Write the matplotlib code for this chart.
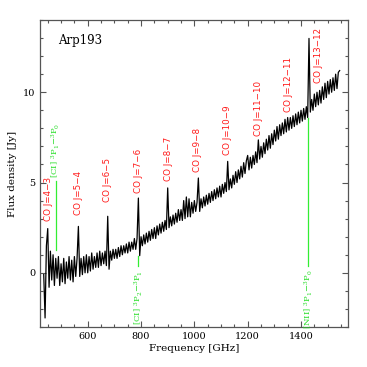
import matplotlib
matplotlib.use("Agg")
import matplotlib.pyplot as plt
from matplotlib.ticker import MultipleLocator

plt.rcParams['mathtext.fontset'] = 'dejavuserif'

# spectrum (GHz, Jy)
freq = [435, 440, 445, 450, 455, 460, 465, 470, 475, 480,
        485, 490, 495, 500, 505, 510, 515, 520, 525, 530,
        535, 540, 545, 550, 555, 560, 565, 570, 575, 580,
        585, 590, 595, 600, 605, 610, 615, 620, 625, 630,
        635, 640, 645, 650, 655, 660, 665, 670, 675, 680,
        685, 690, 695, 700, 705, 710, 715, 720, 725, 730,
        735, 740, 745, 750, 755, 760, 765, 770, 775, 780,
        785, 790, 795, 800, 805, 810, 815, 820, 825, 830,
        835, 840, 845, 850, 855, 860, 865, 870, 875, 880,
        885, 890, 895, 900, 905, 910, 915, 920, 925, 930,
        935, 940, 945, 950, 955, 960, 965, 970, 975, 980,
        985, 990, 995, 1000, 1005, 1010, 1015, 1020, 1025, 1030,
        1035, 1040, 1045, 1050, 1055, 1060, 1065, 1070, 1075, 1080,
        1085, 1090, 1095, 1100, 1105, 1110, 1115, 1120, 1125, 1130,
        1135, 1140, 1145, 1150, 1155, 1160, 1165, 1170, 1175, 1180,
        1185, 1190, 1195, 1200, 1205, 1210, 1215, 1220, 1225, 1230,
        1235, 1240, 1245, 1250, 1255, 1260, 1265, 1270, 1275, 1280,
        1285, 1290, 1295, 1300, 1305, 1310, 1315, 1320, 1325, 1330,
        1335, 1340, 1345, 1350, 1355, 1360, 1365, 1370, 1375, 1380,
        1385, 1390, 1395, 1400, 1405, 1410, 1415, 1420, 1425, 1430,
        1435, 1440, 1445, 1450, 1455, 1460, 1465, 1470, 1475, 1480,
        1485, 1490, 1495, 1500, 1505, 1510, 1515, 1520, 1525, 1530,
        1535, 1540, 1545]
flux = [-0.1, -2.5, 1.5, 2.45, -0.8, 1.2, -0.4, 1.0, -0.7, 0.8,
        -0.3, 0.9, -0.7, 0.5, -0.5, 0.8, -0.6, 0.6, -0.3, 0.9,
        -0.4, 0.7, -0.5, 0.9, -0.2, 0.8, 2.57, -0.2, 0.8, -0.1,
        0.9, 0.0, 1.0, 0.0, 0.9, 0.1, 1.1, 0.2, 0.9, 0.3,
        1.1, 0.3, 1.2, 0.4, 1.1, 0.5, 1.2, 0.4, 3.13, 0.2,
        1.2, 0.7, 1.3, 0.8, 1.3, 0.8, 1.4, 0.9, 1.5, 1.0,
        1.5, 1.1, 1.6, 1.1, 1.7, 1.2, 1.7, 1.3, 1.9, 1.3,
        1.9, 4.14, 0.95, 2.0, 1.5, 2.1, 1.6, 2.2, 1.7, 2.3,
        1.8, 2.4, 1.9, 2.5, 1.9, 2.6, 2.1, 2.7, 2.2, 2.8,
        2.3, 2.9, 2.4, 4.7, 2.5, 3.1, 2.6, 3.2, 2.7, 3.3,
        2.8, 3.5, 2.9, 3.5, 2.9, 4.0, 3.0, 4.2, 3.1, 4.1,
        3.1, 3.9, 3.3, 4.0, 3.4, 3.9, 5.25, 3.4, 4.1, 3.6,
        4.2, 3.7, 4.3, 3.8, 4.4, 3.9, 4.5, 4.0, 4.6, 4.1,
        4.7, 4.2, 4.8, 4.2, 4.9, 4.4, 5.0, 4.5, 6.17, 4.6,
        5.2, 4.7, 5.4, 4.9, 5.6, 5.0, 5.7, 5.2, 5.9, 5.3,
        6.1, 5.5, 6.2, 6.5, 5.7, 6.4, 5.8, 6.5, 6.0, 6.7,
        6.1, 7.36, 6.3, 7.0, 6.4, 7.2, 6.6, 7.4, 6.8, 7.6,
        6.9, 7.7, 7.1, 7.9, 7.3, 8.1, 7.4, 8.2, 7.6, 8.3,
        7.7, 8.5, 7.8, 8.6, 7.9, 8.6, 8.0, 8.7, 8.1, 8.8,
        8.2, 8.9, 8.3, 9.0, 8.4, 9.1, 8.5, 9.2, 8.6, 12.98,
        8.9, 9.6, 9.0, 9.9, 9.2, 10.0, 9.3, 10.1, 9.4, 10.3,
        9.6, 10.5, 9.7, 10.6, 9.9, 10.7, 10.0, 10.8, 10.1, 11.0,
        10.2, 11.1, 11.2]

# CO ladder labels
co_labels = ['CO J=4\u22123', 'CO J=5\u22124', 'CO J=6\u22125', 'CO J=7\u22126',
             'CO J=8\u22127', 'CO J=9\u22128', 'CO J=10\u22129', 'CO J=11\u221210',
             'CO J=12\u221211', 'CO J=13\u221212']
co_freq = [452, 565, 675, 791, 902, 1012, 1125, 1240, 1352, 1465]
co_label_y = [2.85, 3.2, 3.9, 4.4, 5.06, 5.6, 6.5, 7.6, 8.9, 10.5]

# fine-structure lines: label, freq, line start/end, label anchor, above?
fs_labels = [r'[CI] $^3$P$_1$$-$$^3$P$_0$',
             r'[CI] $^3$P$_2$$-$$^3$P$_1$',
             r'[NII] $^3$P$_1$$-$$^3$P$_0$']
fs_freq = [481, 790, 1428]
fs_line_lo = [1.29, 0.4, 0.4]
fs_line_hi = [5.06, 0.92, 8.6]
fs_label_y = [5.25, 0.18, 0.18]
fs_above = [True, False, False]

fig = plt.figure(figsize=(3.67, 3.67), dpi=100)
ax = fig.add_axes([0.109, 0.109, 0.839, 0.8365])

ax.plot(freq, flux, color='black', lw=0.9)

for lab, f, y in zip(co_labels, co_freq, co_label_y):
    ax.text(f, y, lab, rotation=90, ha='center', va='bottom',
            color='#ff1a1a', fontsize=6.3)

for lab, f, lo, hi, ly, up in zip(fs_labels, fs_freq, fs_line_lo, fs_line_hi,
                                  fs_label_y, fs_above):
    ax.plot([f, f], [lo, hi], color='#33ee33', lw=0.9)
    ax.text(f, ly, lab, rotation=90, ha='center',
            va='bottom' if up else 'top', color='#22dd22', fontsize=6.1,
            family='DejaVu Serif')

ax.text(0.06, 0.955, 'Arp193', transform=ax.transAxes, ha='left', va='top',
        fontsize=8.5, family='DejaVu Serif')

ax.set_xlim(421, 1576)
ax.set_ylim(-3, 14)
ax.xaxis.set_major_locator(MultipleLocator(200))
ax.xaxis.set_minor_locator(MultipleLocator(50))
ax.yaxis.set_major_locator(MultipleLocator(5))
ax.yaxis.set_minor_locator(MultipleLocator(1))
ax.tick_params(which='both', direction='in', top=True, right=True,
               color='#555555', labelsize=7)
ax.tick_params(which='major', length=4.3, width=0.8)
ax.tick_params(which='minor', length=2.4, width=0.8)
for lab in ax.get_xticklabels() + ax.get_yticklabels():
    lab.set_family('DejaVu Serif')
for s in ax.spines.values():
    s.set_color('#555555')
    s.set_linewidth(0.9)

ax.set_xlabel('Frequency [GHz]', fontsize=7.5, family='DejaVu Serif', labelpad=2)
ax.set_ylabel('Flux density [Jy]', fontsize=7.5, family='DejaVu Serif', labelpad=4)

fig.savefig('out.png', dpi=100)
